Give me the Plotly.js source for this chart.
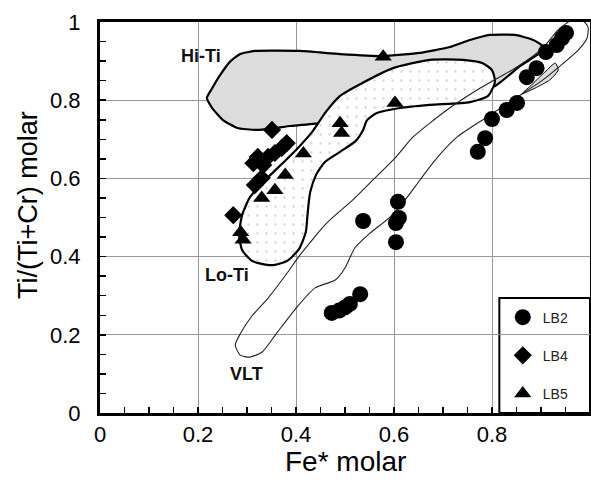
<!DOCTYPE html>
<html>
<head>
<meta charset="utf-8">
<script src="https://cdn.plot.ly/plotly-3.0.1.min.js"></script>
<style>html,body{margin:0;padding:0;background:#fff;}#chart{width:591px;height:483px;}</style>
</head>
<body>
<div id="chart"></div>
<script>
// Sample data (Fe* molar vs Ti/(Ti+Cr) molar)
const lb2X = [0.473,0.488,0.500,0.510,0.531,0.537,0.608,0.610,0.604,0.604,0.771,0.786,0.800,0.830,0.851,0.871,0.891,0.910,0.932,0.943,0.951];
const lb2Y = [0.256,0.262,0.270,0.279,0.304,0.491,0.540,0.499,0.486,0.437,0.668,0.703,0.752,0.775,0.793,0.859,0.882,0.923,0.941,0.959,0.972];
const lb4X = [0.351,0.381,0.371,0.357,0.343,0.322,0.313,0.333,0.330,0.316,0.272];
const lb4Y = [0.724,0.690,0.678,0.665,0.655,0.655,0.639,0.634,0.601,0.583,0.506];
const lb5X = [0.287,0.292,0.330,0.357,0.378,0.415,0.490,0.493,0.578,0.602];
const lb5Y = [0.462,0.443,0.550,0.570,0.609,0.664,0.741,0.716,0.911,0.793];

// Field outlines
const hiTiX = [0.218,0.229,0.245,0.265,0.286,0.316,0.408,0.490,0.578,0.653,0.714,0.755,0.796,0.847,0.878,0.898,0.908,0.857,0.806,0.755,0.612,0.490,0.449,0.388,0.320,0.280,0.251,0.229,0.218];
const hiTiY = [0.806,0.831,0.864,0.898,0.918,0.926,0.926,0.918,0.913,0.921,0.936,0.954,0.967,0.967,0.957,0.944,0.931,0.887,0.836,0.816,0.790,0.765,0.742,0.734,0.724,0.729,0.749,0.780,0.806];
const hiTiTailX = [0.929,0.935,0.918,0.888,0.861,0.878,0.908,0.929];
const hiTiTailY = [0.895,0.877,0.852,0.831,0.816,0.836,0.872,0.895];
const loTiX = [0.341,0.310,0.290,0.284,0.290,0.306,0.331,0.367,0.404,0.433,0.461,0.490,0.531,0.598,0.673,0.741,0.780,0.800,0.806,0.792,0.755,0.673,0.612,0.565,0.545,0.537,0.522,0.490,0.459,0.441,0.429,0.424,0.420,0.406,0.382,0.357,0.341];
const loTiY = [0.379,0.389,0.417,0.455,0.506,0.552,0.588,0.632,0.678,0.719,0.770,0.811,0.841,0.882,0.903,0.903,0.895,0.877,0.847,0.811,0.795,0.788,0.780,0.767,0.749,0.724,0.696,0.668,0.642,0.609,0.565,0.514,0.463,0.419,0.389,0.379,0.379];
const vltX = [0.963,0.984,0.996,0.994,0.976,0.949,0.904,0.851,0.790,0.729,0.684,0.653,0.627,0.592,0.551,0.520,0.500,0.480,0.439,0.402,0.361,0.331,0.306,0.286,0.276,0.286,0.310,0.343,0.382,0.408,0.463,0.516,0.557,0.602,0.639,0.708,0.776,0.851,0.904,0.935,0.963];
const vltY = [1.005,1.005,0.987,0.959,0.928,0.898,0.852,0.808,0.757,0.706,0.647,0.596,0.552,0.501,0.460,0.422,0.371,0.340,0.320,0.271,0.205,0.156,0.143,0.148,0.174,0.202,0.248,0.294,0.358,0.404,0.486,0.545,0.596,0.652,0.706,0.775,0.831,0.885,0.934,0.980,1.005];

const fieldLabels = ['Hi-Ti','Lo-Ti','VLT'];
const fieldLabelX = [0.206,0.259,0.298];
const fieldLabelY = [0.913,0.353,0.100];

const seriesNames = ['LB2','LB4','LB5'];
const xTitle = 'Fe* molar';
const yTitle = 'Ti/(Ti+Cr) molar';

const traces = [
  {x: hiTiX, y: hiTiY, type:'scatter', mode:'lines', fill:'toself', fillcolor:'#dcdcdc',
   line:{color:'#000', width:2.2, shape:'spline', smoothing:0.45}, showlegend:false, hoverinfo:'skip'},
  {x: hiTiTailX, y: hiTiTailY, type:'scatter', mode:'lines', fill:'toself', fillcolor:'#dcdcdc',
   line:{color:'#000', width:1, shape:'spline', smoothing:0.6}, showlegend:false, hoverinfo:'skip'},
  {x: loTiX, y: loTiY, type:'scatter', mode:'lines', fill:'toself', fillcolor:'#ffffff',
   fillpattern:{shape:'.', fgcolor:'#d2d2d2', bgcolor:'#ffffff', size:9, solidity:0.05},
   line:{color:'#000', width:2.2, shape:'spline', smoothing:0.6}, showlegend:false, hoverinfo:'skip'},
  {x: vltX, y: vltY, type:'scatter', mode:'lines',
   line:{color:'#222', width:1.1, shape:'spline', smoothing:0.6}, showlegend:false, hoverinfo:'skip'},
  {x: lb2X, y: lb2Y, name: seriesNames[0], legendgroup:'a', type:'scatter', mode:'markers',
   marker:{symbol:'circle', size:16, color:'#000'}},
  {x: lb4X, y: lb4Y, name: seriesNames[1], legendgroup:'b', type:'scatter', mode:'markers',
   marker:{symbol:'diamond', size:14, color:'#000'}},
  {x: lb5X, y: lb5Y, name: seriesNames[2], legendgroup:'c', type:'scatter', mode:'markers',
   marker:{symbol:'triangle-up', size:15, color:'#000'}}
];

const font = 'Liberation Sans, Arial, Helvetica, sans-serif';

const layout = {
  width: 591, height: 483,
  margin: {l:100, r:1, t:22, b:70},
  paper_bgcolor:'#fff', plot_bgcolor:'#fff',
  font: {family: font, color:'#000'},
  showlegend: true,
  legend: {x:0.822, y:0.285, xanchor:'left', yanchor:'top', bgcolor:'rgba(0,0,0,0)', borderwidth:0,
           font:{size:14, family:font, color:'#222'}, tracegroupgap:17, itemsizing:'trace'},
  xaxis: {range:[0,1], dtick:0.2, tick0:0, showgrid:true, gridcolor:'#999', gridwidth:1,
          zeroline:false, showline:true, linecolor:'#000', linewidth:3, mirror:true,
          ticks:'inside', ticklen:6, tickwidth:1.5, tickcolor:'#000',
          minor:{dtick:0.05, ticks:'inside', ticklen:6, tickwidth:1.5, tickcolor:'#000', showgrid:false},
          tickfont:{size:22, family:font}},
  yaxis: {range:[0,1], dtick:0.2, tick0:0, showgrid:true, gridcolor:'#999', gridwidth:1,
          zeroline:false, showline:true, linecolor:'#000', linewidth:3, mirror:true,
          ticks:'inside', ticklen:6, tickwidth:1.5, tickcolor:'#000', ticklabelstandoff:12,
          minor:{dtick:0.05, ticks:'inside', ticklen:6, tickwidth:1.5, tickcolor:'#000', showgrid:false},
          tickfont:{size:22, family:font}},
  shapes: [
    {type:'rect', xref:'x', yref:'y', x0:0.815, x1:1, y0:0, y1:0.294, layer:'below',
     fillcolor:'#fff', line:{color:'#000', width:2}}
  ],
  annotations: fieldLabels.map((t,i)=>({x:fieldLabelX[i], y:fieldLabelY[i], xref:'x', yref:'y', text:'<b>'+t+'</b>',
     showarrow:false, font:{size:18, family:font, color:'#111'}})).concat([
     {x:0.5, y:-0.125, xref:'paper', yref:'paper', text:xTitle, showarrow:false, xanchor:'center', yanchor:'middle',
      font:{size:28, family:font, color:'#000'}},
     {x:-0.147, y:0.532, xref:'paper', yref:'paper', text:yTitle, showarrow:false, textangle:-90, xanchor:'center', yanchor:'middle',
      font:{size:27, family:font, color:'#000'}}
  ])
};

Plotly.newPlot('chart', traces, layout, {staticPlot:true, displayModeBar:false});
</script>
</body>
</html>
